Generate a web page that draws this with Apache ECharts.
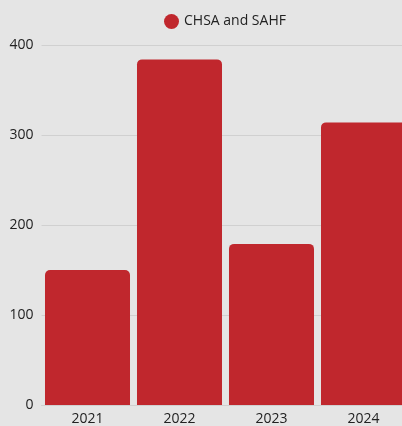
<!DOCTYPE html>
<html><head><meta charset="utf-8">
<script src="https://cdn.jsdelivr.net/npm/echarts@6/dist/echarts.min.js"></script>
<style>html,body{margin:0;padding:0;background:#e5e5e5;overflow:hidden;}#c{width:402px;height:426px;}</style>
</head><body><div id="c"></div>
<script>
const categories = ['2021', '2022', '2023', '2024'];
const seriesName = 'CHSA and SAHF';
const values = [150, 384, 179, 314];
const yTicks = { min: 0, max: 400, interval: 100 };

const chart = echarts.init(document.getElementById('c'));
chart.setOption({
  backgroundColor: '#e5e5e5',
  animation: false,
  textStyle: { fontFamily: 'Open Sans' },
  legend: {
    top: 9, left: 159,
    icon: 'circle', itemWidth: 15, itemHeight: 15, itemGap: 6,
    textStyle: { fontSize: 14, color: '#222', fontFamily: 'Open Sans' },
    data: [seriesName]
  },
  grid: { left: 41.5, width: 368, top: 45, bottom: 21, containLabel: false, outerBoundsMode: 'none' },
  xAxis: {
    type: 'category', data: categories,
    axisLine: { show: true, lineStyle: { color: '#d0d0d0' } },
    axisTick: { show: false },
    axisLabel: { fontSize: 14, color: '#222', margin: 7, fontFamily: 'Open Sans' }
  },
  yAxis: {
    type: 'value', min: yTicks.min, max: yTicks.max, interval: yTicks.interval,
    axisLine: { show: false }, axisTick: { show: false },
    axisLabel: { fontSize: 14, color: '#222', margin: 8, fontFamily: 'Open Sans' },
    splitLine: { lineStyle: { color: '#d0d0d0', width: 1 } }
  },
  series: [{
    name: seriesName, type: 'bar', data: values,
    barCategoryGap: '7.6%',
    itemStyle: { color: '#c0272d', borderRadius: [5, 5, 0, 0] }
  }]
});
</script></body></html>
